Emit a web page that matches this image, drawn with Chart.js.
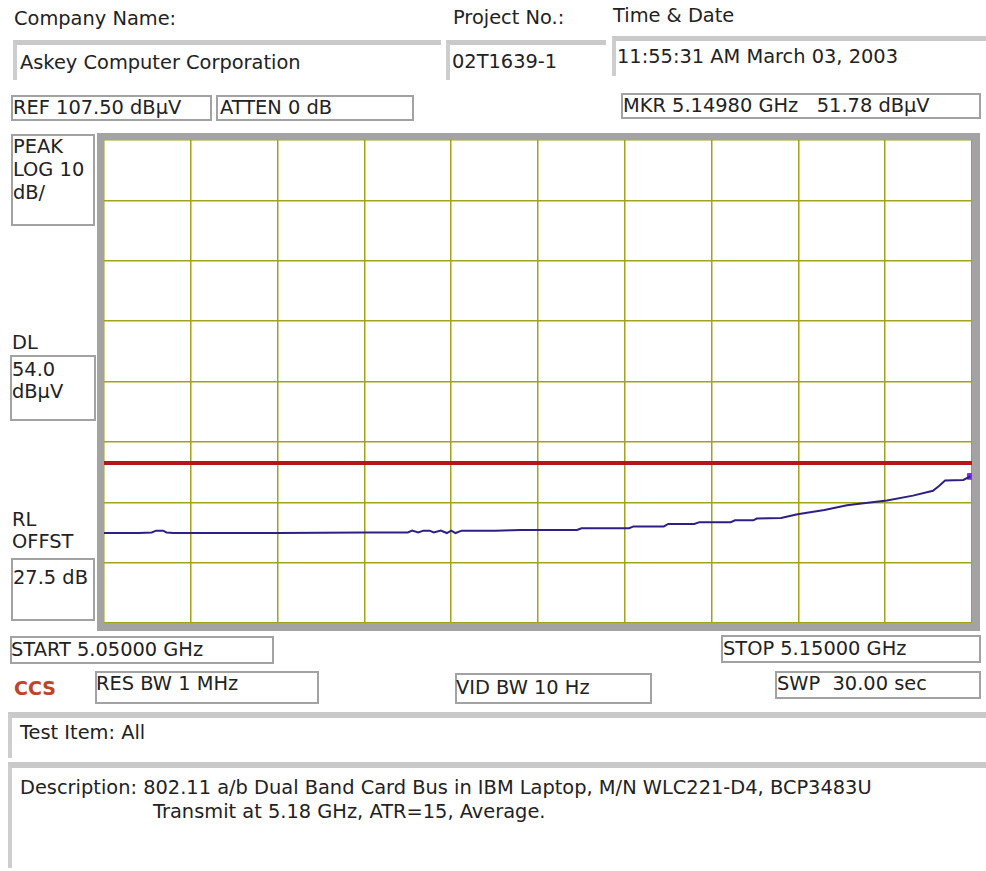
<!DOCTYPE html>
<html>
<head>
<meta charset="utf-8">
<script src="https://cdn.jsdelivr.net/npm/chart.js@4.4.1/dist/chart.umd.min.js"></script>
<style>
  body { margin: 0; background: #fff; width: 986px; height: 871px; position: relative; overflow: hidden;
         font-family: "DejaVu Sans", sans-serif; font-size: 19.4px; color: #222; }
  .t { position: absolute; white-space: pre; line-height: 22px; }
  .box { position: absolute; border: 2px solid #a2a2a2; box-sizing: border-box; }
  .field { position: absolute; box-sizing: border-box; border-top: 5px solid #c9c9c9; border-left: 4px solid #cdcdcd; }
  #frame { position: absolute; left: 97px; top: 133px; width: 868px; height: 483px;
           border: 7px solid #a3a3a3; border-right-width: 8px; border-bottom-width: 8px; }
</style>
</head>
<body>
<!-- cabeçalho -->
<div class="t" style="left:14px;top:8px">Company Name:</div>
<div class="t" style="left:453px;top:7px">Project No.:</div>
<div class="t" style="left:613px;top:5px">Time &amp; Date</div>
<div class="field" style="left:13px;top:40px;width:428px;height:40px"></div>
<div class="field" style="left:446px;top:40px;width:160px;height:40px"></div>
<div class="field" style="left:612px;top:36px;width:374px;height:40px"></div>
<div class="t" style="left:20px;top:52px">Askey Computer Corporation</div>
<div class="t" style="left:452px;top:51px">02T1639-1</div>
<div class="t" style="left:617px;top:46px">11:55:31 AM March 03, 2003</div>

<div class="box" style="left:11px;top:95px;width:201px;height:26px"></div>
<div class="t" style="left:13px;top:97px">REF 107.50 dBµV</div>
<div class="box" style="left:216px;top:95px;width:198px;height:26px"></div>
<div class="t" style="left:220px;top:97px">ATTEN 0 dB</div>
<div class="box" style="left:621px;top:93px;width:360px;height:26px"></div>
<div class="t" style="left:623px;top:95px">MKR 5.14980 GHz   51.78 dBµV</div>

<!-- lado esquerdo -->
<div class="box" style="left:11px;top:134px;width:84px;height:92px"></div>
<div class="t" style="left:13px;top:136px">PEAK</div>
<div class="t" style="left:13px;top:159px">LOG 10</div>
<div class="t" style="left:13px;top:182px">dB/</div>
<div class="t" style="left:12px;top:332px">DL</div>
<div class="box" style="left:10px;top:355px;width:86px;height:66px"></div>
<div class="t" style="left:12px;top:359px">54.0</div>
<div class="t" style="left:12px;top:381px">dBµV</div>
<div class="t" style="left:12px;top:509px">RL</div>
<div class="t" style="left:12px;top:531px">OFFST</div>
<div class="box" style="left:11px;top:558px;width:84px;height:63px"></div>
<div class="t" style="left:13px;top:567px">27.5 dB</div>

<div id="frame"><canvas id="grafico" width="868" height="483"></canvas></div>

<!-- rodapé -->
<div class="box" style="left:10px;top:636px;width:264px;height:28px"></div>
<div class="t" style="left:11px;top:639px">START 5.05000 GHz</div>
<div class="box" style="left:721px;top:635px;width:260px;height:28px"></div>
<div class="t" style="left:723px;top:638px">STOP 5.15000 GHz</div>
<div class="t" style="left:14px;top:677px;color:#c0442a;font-weight:bold;font-size:19px">CCS</div>
<div class="box" style="left:95px;top:671px;width:224px;height:33px"></div>
<div class="t" style="left:96px;top:673px">RES BW 1 MHz</div>
<div class="box" style="left:455px;top:673px;width:197px;height:31px"></div>
<div class="t" style="left:456px;top:677px">VID BW 10 Hz</div>
<div class="box" style="left:775px;top:671px;width:206px;height:28px"></div>
<div class="t" style="left:777px;top:673px">SWP  30.00 sec</div>

<div class="field" style="left:8px;top:712px;width:978px;height:46px;border-top-width:6px"></div>
<div class="t" style="left:20px;top:722px">Test Item: All</div>
<div class="field" style="left:8px;top:762px;width:978px;height:106px;border-top-width:6px"></div>
<div class="t" style="left:20px;top:777px">Description: 802.11 a/b Dual Band Card Bus in IBM Laptop, M/N WLC221-D4, BCP3483U</div>
<div class="t" style="left:153px;top:801px">Transmit at 5.18 GHz, ATR=15, Average.</div>

<script>
const freqGHz = [5.0500, 5.0540, 5.0555, 5.0560, 5.0568, 5.0572, 5.0580, 5.0700, 5.0800, 5.0850,
  5.0855, 5.0862, 5.0868, 5.0875, 5.0880, 5.0888, 5.0895, 5.0900, 5.0905, 5.0912,
  5.0920, 5.0950, 5.0980, 5.1045, 5.1050, 5.1105, 5.1110, 5.1145, 5.1150, 5.1180,
  5.1186, 5.1222, 5.1227, 5.1248, 5.1252, 5.1280, 5.1299, 5.1330, 5.1356, 5.1380,
  5.1402, 5.1432, 5.1455, 5.1462, 5.1469, 5.1490, 5.1498];
const nivelDbuv = [42.4, 42.4, 42.5, 42.8, 42.8, 42.5, 42.4, 42.4, 42.5, 42.5,
  42.8, 42.5, 42.8, 42.8, 42.5, 42.8, 42.4, 42.8, 42.4, 42.8,
  42.8, 42.8, 42.9, 42.9, 43.2, 43.2, 43.5, 43.5, 43.9, 43.9,
  44.2, 44.2, 44.5, 44.5, 44.8, 44.9, 45.5, 46.2, 47.0, 47.4,
  47.8, 48.6, 49.4, 50.2, 51.1, 51.2, 51.78];

const displayLine = 54.0;            // DL
const marcador = { x: 5.1498, y: 51.78 }; // MKR

// linhas da grade
const gradeX = [5.05, 5.06, 5.07, 5.08, 5.09, 5.10, 5.11, 5.12, 5.13, 5.14, 5.15];
const gradeY = [27.5, 37.5, 47.5, 57.5, 67.5, 77.5, 87.5, 97.5, 107.5];

const corGrade = '#a2a21c';

function criarGrafico() {
  const ctx = document.getElementById('grafico');
  const traco = freqGHz.map((f, i) => ({ x: f, y: nivelDbuv[i] }));

  new Chart(ctx, {
    type: 'line',
    data: {
      datasets: [
        {
          label: 'DL',
          data: [{ x: gradeX[0], y: displayLine }, { x: gradeX[gradeX.length - 1], y: displayLine }],
          borderColor: '#b3171c',
          borderWidth: 4,
          pointRadius: 0
        },
        {
          label: 'Trace',
          data: traco,
          borderColor: '#2c1f86',
          borderWidth: 2,
          pointRadius: 0,
          tension: 0
        },
        {
          label: 'MKR',
          data: [marcador],
          showLine: false,
          pointStyle: 'rect',
          pointRadius: 4,
          backgroundColor: '#7a2cf0',
          borderColor: '#7a2cf0'
        }
      ]
    },
    options: {
      responsive: false,
      animation: false,
      layout: { padding: 0, autoPadding: false },
      plugins: { legend: { display: false }, tooltip: { enabled: false } },
      scales: {
        x: {
          type: 'linear',
          min: gradeX[0],
          max: gradeX[gradeX.length - 1],
          afterBuildTicks: s => { s.ticks = gradeX.map(v => ({ value: v })); },
          ticks: { display: false },
          border: { display: false },
          grid: { color: corGrade, lineWidth: 1.5, drawTicks: false }
        },
        y: {
          type: 'linear',
          min: gradeY[0],
          max: gradeY[gradeY.length - 1],
          afterBuildTicks: s => { s.ticks = gradeY.map(v => ({ value: v })); },
          ticks: { display: false },
          border: { display: false },
          grid: { color: corGrade, lineWidth: 1.5, drawTicks: false }
        }
      }
    }
  });
}

window.onload = criarGrafico;
</script>
</body>
</html>
